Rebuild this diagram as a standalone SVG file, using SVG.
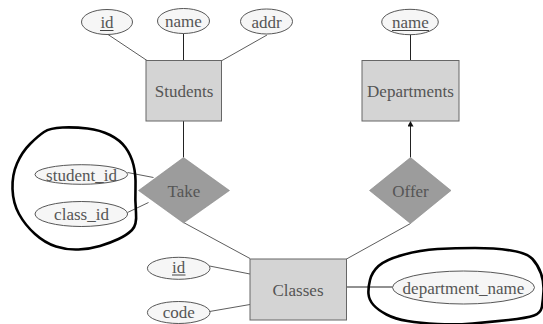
<svg xmlns="http://www.w3.org/2000/svg" width="543" height="324" viewBox="0 0 543 324">
<style>
.ent{fill:#d4d4d4;stroke:#666;stroke-width:1}
.rel{fill:#9c9c9c;stroke:#888;stroke-width:0.6}
.att{fill:#f6f6f6;stroke:#444;stroke-width:0.9}
.t{font-family:"Liberation Serif","Times New Roman",serif;font-size:17px;fill:#555;text-anchor:middle}
.ul{stroke:#444;stroke-width:1}
.c{stroke:#222;stroke-width:1;fill:none}
.cl{stroke:#333;stroke-width:0.8;fill:none}
.hand{fill:none;stroke:#000;stroke-width:2.6;stroke-linejoin:round}
</style>
<defs>
<marker id="arr" markerWidth="6" markerHeight="6" refX="5" refY="3" orient="auto" markerUnits="userSpaceOnUse">
<path d="M0,0 L5.5,3 L0,6 z" fill="#111"/>
</marker>
</defs>
<rect width="543" height="324" fill="#fff"/>
<g id="connectors">
<line class="cl" x1="108" y1="34.5" x2="147" y2="60.5"/>
<line class="c" x1="183.5" y1="33.5" x2="183.5" y2="60.5"/>
<line class="cl" x1="267" y1="35" x2="222" y2="60.5"/>
<line class="c" x1="410.5" y1="34.5" x2="410.5" y2="60.5"/>
<line class="c" x1="183.5" y1="121" x2="183.5" y2="157.5"/>
<line class="c" x1="410.5" y1="157.5" x2="410.5" y2="121.5" marker-end="url(#arr)"/>
<line class="cl" x1="127.5" y1="172.5" x2="153.5" y2="177.5"/>
<line class="cl" x1="127.5" y1="212.5" x2="148.5" y2="202.5"/>
<line class="cl" x1="183.5" y1="222.5" x2="250" y2="258.5"/>
<line class="cl" x1="410.5" y1="223.5" x2="346.5" y2="259"/>
<line class="cl" x1="209.5" y1="266" x2="250" y2="274"/>
<line class="cl" x1="209.5" y1="311.5" x2="250" y2="304.5"/>
<line class="c" x1="346.5" y1="287" x2="392.5" y2="287"/>
</g>
<g id="students">
<rect class="ent" x="146" y="60.5" width="75.5" height="60.5"/>
<text class="t" x="184" y="96.5">Students</text>
</g>
<g id="departments">
<rect class="ent" x="362" y="60.5" width="97" height="60.5"/>
<text class="t" x="410.5" y="96.5">Departments</text>
</g>
<g id="classes">
<rect class="ent" x="250" y="259" width="96.5" height="61"/>
<text class="t" x="298" y="296">Classes</text>
</g>
<g id="take">
<polygon class="rel" points="183.5,157.5 229.5,190.5 183.5,223 138.5,190.5"/>
<text class="t" x="184" y="196.5">Take</text>
</g>
<g id="offer">
<polygon class="rel" points="410.5,157.5 451,190.5 410.5,223.5 369.5,190.5"/>
<text class="t" x="410.5" y="196.5">Offer</text>
</g>
<g id="students_id">
<ellipse class="att" cx="107" cy="22" rx="25.5" ry="12.5"/>
<text class="t" x="107" y="28">id</text>
<line class="ul" x1="100" y1="30.5" x2="113.5" y2="30.5"/>
</g>
<g id="students_name">
<ellipse class="att" cx="183.5" cy="21" rx="26" ry="12.5"/>
<text class="t" x="183.5" y="27">name</text>
</g>
<g id="students_addr">
<ellipse class="att" cx="266.5" cy="21.5" rx="26" ry="12.5"/>
<text class="t" x="266.5" y="27.5">addr</text>
</g>
<g id="departments_name">
<ellipse class="att" cx="410" cy="22" rx="28.3" ry="12.7"/>
<text class="t" x="410.5" y="28">name</text>
<line class="ul" x1="392" y1="30.5" x2="429" y2="30.5"/>
</g>
<g id="student_id">
<ellipse class="att" cx="81.3" cy="174.5" rx="46.3" ry="9.8"/>
<text class="t" x="81.5" y="180.5">student_id</text>
</g>
<g id="class_id">
<ellipse class="att" cx="81.3" cy="214" rx="46.3" ry="12.5"/>
<text class="t" x="81.5" y="220">class_id</text>
</g>
<g id="classes_id">
<ellipse class="att" cx="178.7" cy="268.3" rx="31.3" ry="11"/>
<text class="t" x="178.7" y="273">id</text>
<line class="ul" x1="172" y1="275" x2="185.5" y2="275"/>
</g>
<g id="classes_code">
<ellipse class="att" cx="178.7" cy="312.5" rx="31.3" ry="11"/>
<text class="t" x="178.7" y="318">code</text>
</g>
<g id="department_name">
<ellipse class="att" cx="463.5" cy="287.5" rx="71" ry="16.5"/>
<text class="t" x="463.5" y="293.5">department_name</text>
</g>
<g id="annotations">
<path class="hand" d="M62.5,127.5 Q75,127 87.5,128.5 Q100,130 110,135 Q120,140 125.5,147.5 Q131,155 133.5,165 Q136,175 135.5,187.5 Q135,200 136,212.5 Q137,225 132,230 Q127,235 118.5,239 Q110,243 100,246 Q90,249 78.5,249.5 Q67,250 56,246.5 Q45,243 35,234 Q25,225 19,214 Q13,203 12.5,189 Q12,175 17,163.5 Q22,152 30,144 Q38,136 44,132 Q50,128 62.5,127.5 Z"/>
<path class="hand" d="M370,280 Q372,272 378.5,266 Q385,260 402.5,255 Q420,250 437.5,249 Q455,248 475,248 Q495,248 511,250.5 Q527,253 532.5,259 Q538,265 541,273.5 Q544,282 543.5,291 Q543,300 542,306.5 Q541,313 534,315.5 Q527,318 508.5,320 Q490,322 472.5,323.5 Q455,325 437.5,324 Q420,323 407.5,321 Q395,319 386.5,314.5 Q378,310 373.5,305 Q369,300 368.5,294 Q368,288 370,280 Z"/>
</g>
</svg>
